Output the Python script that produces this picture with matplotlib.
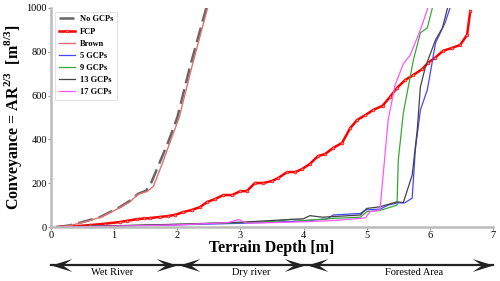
import matplotlib
matplotlib.use('Agg')
import matplotlib.pyplot as plt
from matplotlib.path import Path
from matplotlib.transforms import blended_transform_factory

plt.rcParams['font.family'] = 'Liberation Serif'
plt.rcParams['mathtext.fontset'] = 'custom'
plt.rcParams['mathtext.rm'] = 'Liberation Serif'
plt.rcParams['mathtext.bf'] = 'Liberation Serif:bold'

# Conveyance curves
x_nogcp = [0.1, 0.3, 0.5, 0.78, 1.09, 1.25, 1.38, 1.5, 1.57, 1.7, 1.85, 2.0, 2.2, 2.46]
y_nogcp = [0, 8, 23, 46, 91, 120, 152, 165, 190, 280, 383, 500, 730, 1000]

x_fcp = [0.1, 0.4, 0.62, 0.85, 1.09, 1.2, 1.36, 1.47, 1.57, 1.72, 1.85, 1.97, 2.09, 2.23,
         2.36, 2.47, 2.6, 2.73, 2.87, 3.0, 3.1, 3.23, 3.36, 3.5, 3.6, 3.74, 3.87, 3.98,
         4.1, 4.23, 4.34, 4.47, 4.61, 4.74, 4.85, 4.98, 5.1, 5.25, 5.37, 5.48, 5.61, 5.74,
         5.88, 5.97, 6.08, 6.21, 6.35, 6.48, 6.59, 6.64]
y_fcp = [0, 4, 9, 15, 23, 28, 36, 39, 41, 46, 50, 56, 68, 78,
         91, 114, 128, 146, 146, 164, 164, 201, 201, 210, 224, 251, 251, 265,
         288, 324, 333, 361, 384, 452, 489, 511, 534, 553, 594, 635, 671, 694,
         721, 749, 772, 804, 817, 831, 877, 985]

x_brown = [0.1, 0.3, 0.5, 0.78, 1.09, 1.25, 1.38, 1.52, 1.62, 1.75, 1.88, 2.03, 2.23, 2.48]
y_brown = [0, 7, 21, 44, 88, 115, 150, 162, 185, 280, 383, 500, 730, 1000]

x_5 = [0.1, 1, 2, 3, 3.5, 4.0, 4.37, 4.47, 4.9, 4.98, 5.21, 5.34, 5.48, 5.6, 5.72, 5.77,
       5.85, 5.96, 6.09, 6.24, 6.32]
y_5 = [0, 4, 10, 17, 22, 28, 37, 55, 62, 78, 82, 100, 110, 110, 132, 352,
       534, 626, 840, 931, 1000]

x_9 = [0.1, 1, 2, 3, 3.5, 3.8, 4.0, 4.5, 4.9, 5.0, 5.2, 5.48, 5.5, 5.58, 5.64, 5.74,
       5.85, 5.96, 6.04]
y_9 = [0, 5, 12, 20, 25, 35, 30, 40, 45, 70, 75, 100, 306, 520, 612, 763,
       886, 909, 1000]

x_13 = [0.1, 1, 2, 3, 3.5, 4.0, 4.1, 4.3, 4.9, 5.0, 5.2, 5.48, 5.58, 5.72, 5.8, 5.85,
        5.93, 6.09, 6.2, 6.28]
y_13 = [0, 6, 13, 22, 30, 38, 52, 45, 55, 85, 92, 115, 112, 237, 443, 639,
        731, 854, 909, 1000]

x_17 = [0.1, 1, 2, 2.8, 2.97, 3.1, 3.5, 4.0, 4.5, 4.98, 5.05, 5.21, 5.34, 5.45, 5.58,
        5.69, 5.85, 5.97]
y_17 = [0, 4, 10, 20, 34, 18, 20, 24, 30, 42, 70, 78, 490, 648, 745,
        785, 900, 1000]

# zones along the terrain depth axis
zones = ['Wet River', 'Dry river', 'Forested Area']
zone_start = [0, 2.03, 4.05]
zone_end = [2.0, 4.02, 7.0]
zone_label_x = [0.97, 3.17, 5.75]

fig = plt.figure(figsize=(5, 2.81), dpi=100)
ax = fig.add_axes([0.102, 0.192, 0.884, 0.78])

ax.plot(x_nogcp, y_nogcp, color='#666666', lw=1.8, dashes=(6, 2.5), label='No GCPs')
ax.plot(x_fcp, y_fcp, color='red', lw=1.8, marker='o', ms=2.0, mfc='#ff9090',
        mec='red', mew=0.5, label='FCP')
ax.plot(x_brown, y_brown, color='#e07070', lw=1.0, label='Brown')
ax.plot(x_5, y_5, color='#4646ff', lw=0.9, label='5 GCPs')
ax.plot(x_9, y_9, color='#3aa63a', lw=0.9, label='9 GCPs')
ax.plot(x_13, y_13, color='#444444', lw=0.9, label='13 GCPs')
ax.plot(x_17, y_17, color='#ff55ff', lw=0.9, label='17 GCPs')

ax.set_xlim(0, 7)
ax.set_ylim(0, 1000)
ax.set_xticks(range(8))
ax.set_yticks([0, 200, 400, 600, 800, 1000])

for s in ['top', 'right']:
    ax.spines[s].set_visible(False)
for s in ['left', 'bottom']:
    ax.spines[s].set_color('#bbbbbb')
    ax.spines[s].set_linewidth(1.8)
ax.tick_params(labelsize=7.5, length=2, color='#999999', pad=1)

ax.set_xlabel('Terrain Depth [m]', fontsize=11.5, fontweight='bold', labelpad=0)
ax.set_ylabel(r'Conveyance = AR$^{\mathbf{2/3}}$  [m$^{\mathbf{8/3}}$]',
              fontsize=11.5, fontweight='bold', labelpad=2)

leg = ax.legend(loc='upper left', prop={'weight': 'bold', 'size': 6},
                handlelength=2.0, labelspacing=0.5, borderpad=0.4, handletextpad=0.6,
                bbox_to_anchor=(0.0, 1.0), fancybox=False)
leg.get_frame().set_edgecolor('#dddddd')
leg.get_frame().set_linewidth(0.8)

# barbed arrow heads (tip at origin)
head_left = Path([(0, 0), (2, 0.62), (1.1, 0), (2, -0.62), (0, 0)],
                 [Path.MOVETO, Path.LINETO, Path.LINETO, Path.LINETO, Path.CLOSEPOLY])
head_right = Path([(0, 0), (-2, 0.62), (-1.1, 0), (-2, -0.62), (0, 0)],
                  [Path.MOVETO, Path.LINETO, Path.LINETO, Path.LINETO, Path.CLOSEPOLY])

trans = blended_transform_factory(ax.transData, fig.transFigure)
arrow_y = 0.057
for name, x0, x1, xl in zip(zones, zone_start, zone_end, zone_label_x):
    ax.plot([x0, x1], [arrow_y, arrow_y], color='#222222', lw=1.6,
            transform=trans, clip_on=False)
    ax.plot([x0], [arrow_y], marker=head_left, ms=30, color='#222222', mew=0,
            transform=trans, clip_on=False)
    ax.plot([x1], [arrow_y], marker=head_right, ms=30, color='#222222', mew=0,
            transform=trans, clip_on=False)
    ax.text(xl, 0.03, name, transform=trans, ha='center', va='center', fontsize=7.5)

fig.savefig('out.png', dpi=100)
